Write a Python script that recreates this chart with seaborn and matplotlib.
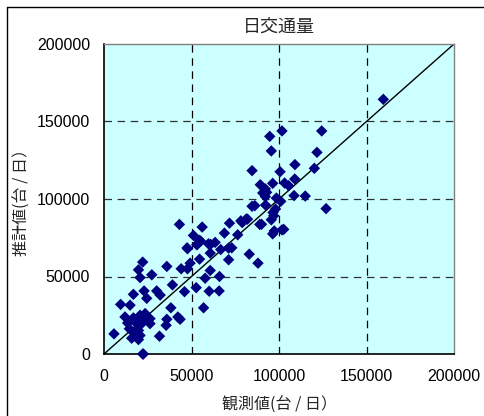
import matplotlib
matplotlib.use("Agg")
import matplotlib.pyplot as plt
import seaborn as sns
import pandas as pd
from matplotlib.lines import Line2D

# observed (x) and estimated (y) daily traffic volumes
observed = [
    5700, 9500, 12000, 14500, 14900, 15800, 16800, 16800, 16800, 18700,
    19700, 19700, 20600, 20600, 22100, 22100, 23500, 22900, 24400, 26300,
    26300, 31700, 32100, 35500, 35900, 38200, 39100, 42200, 43500, 46000,
    52700, 56900, 60100, 65800, 57800, 20600, 66000, 21000, 24000, 18000,
    13500, 30100, 22500,
    19700, 22100, 27300, 35900, 43100, 44100, 47700, 49200, 47700, 51100,
    53000, 54600, 54600, 56100, 59700, 63500, 60700, 60700, 66700, 60900,
    55200, 53300, 47500, 68800, 71700, 76400, 79000, 71200, 71200, 83000,
    88000, 89000, 95600, 96400, 101700, 81300, 82000, 78200, 73000, 90000,
    97300, 102700, 97000, 98000, 92300, 84600, 126900, 101000, 98500, 92200,
    90700, 92200, 89300, 96400, 103200, 105500, 108600, 115000, 109000, 100600,
    84600, 109100, 120200, 95600, 121700, 94700, 101700, 124400, 159600, 86200,
    92900, 96600,
]
estimated = [
    13000, 32000, 23900, 16300, 31500, 10200, 14100, 23300, 38500, 19600,
    15200, 9300, 12000, 25000, 21700, 0, 26100, 40700, 35900, 22800,
    19600, 11500, 38000, 18500, 22400, 29800, 44600, 23900, 22400, 40200,
    42800, 29800, 40500, 40700, 48900, 49300, 50000, 19000, 24000, 21000,
    20000, 40700, 0,
    54300, 59300, 51100, 56500, 83600, 55000, 55000, 58600, 67900, 76500,
    70500, 73300, 61200, 81900, 71100, 72000, 65100, 53900, 67400, 70700,
    72800, 70700, 68500, 78000, 84400, 76900, 84800, 68300, 60800, 64400,
    58600, 83600, 86600, 77500, 80100, 87100, 87000, 85900, 68500, 83700,
    79400, 80400, 89200, 93500, 96100, 95300, 93800, 98500, 100600, 101500,
    103900, 106500, 109200, 110100, 110300, 108600, 102200, 101900, 112900, 117600,
    118300, 122200, 119800, 131000, 130100, 140400, 143900, 143900, 164300, 95700,
    104300, 91300,
]

ticks = [0, 50000, 100000, 150000, 200000]
tick_labels = ["0", "50000", "100000", "150000", "200000"]
line_x = [0, 200000]
line_y = [0, 200000]

title = "日交通量"
xlabel = "観測値(台 / 日）"
ylabel = "推計値(台 / 日）"

sns.set_theme(style="white")
plt.rcParams["font.family"] = ["Liberation Sans", "Noto Sans CJK JP", "DejaVu Sans"]

fig = plt.figure(figsize=(4.84, 4.16), dpi=100)
ax = fig.add_axes([104 / 484, 1 - 354 / 416, 350 / 484, 310 / 416])
ax.set_facecolor("#CCFFFF")

df = pd.DataFrame({"obs": observed, "est": estimated})
sns.scatterplot(data=df, x="obs", y="est", marker="D", s=34, color="#000080",
                edgecolor="none", linewidth=0, ax=ax, zorder=3, clip_on=False)
ax.plot(line_x, line_y, color="black", lw=1.0, zorder=2)

ax.set_xlim(0, 200000)
ax.set_ylim(0, 200000)
ax.set_xticks(ticks)
ax.set_yticks(ticks)
ax.set_xticklabels(tick_labels)
ax.set_yticklabels(tick_labels)
ax.tick_params(axis="both", length=0, labelsize=11.5, colors="black")
ax.tick_params(axis="x", pad=11)
ax.tick_params(axis="y", pad=10)

for v in ticks[1:-1]:
    ax.axvline(v, color="black", lw=0.9, ls=(0, (6, 4.5)), zorder=1)
    ax.axhline(v, color="#303030", lw=0.9, ls=(0, (6, 4.5)), zorder=1)

for side in ["left", "bottom"]:
    ax.spines[side].set_color("black")
    ax.spines[side].set_linewidth(1.2)
for side in ["top", "right"]:
    ax.spines[side].set_color("#808080")
    ax.spines[side].set_linewidth(1.0)

ax.set_xlabel("")
ax.set_ylabel("")
fig.text(279 / 484, 1 - 27 / 416, title, ha="center", va="center",
         fontsize=13, family=["Noto Sans CJK JP"])
fig.text(279 / 484, 1 - 405 / 416, xlabel, ha="center", va="center",
         fontsize=11.5, family=["Noto Sans CJK JP"])
fig.text(22 / 484, 1 - 199 / 416, ylabel, ha="center", va="center",
         rotation=90, fontsize=11.5, family=["Noto Sans CJK JP"])

# outer frame (top and left edges visible)
fig.add_artist(Line2D([7 / 484, 1.0], [1 - 7 / 416, 1 - 7 / 416],
                      transform=fig.transFigure, color="black", lw=1.0))
fig.add_artist(Line2D([7 / 484, 7 / 484], [1 - 7 / 416, 0.0],
                      transform=fig.transFigure, color="black", lw=1.0))

fig.savefig("out.png", dpi=100)
